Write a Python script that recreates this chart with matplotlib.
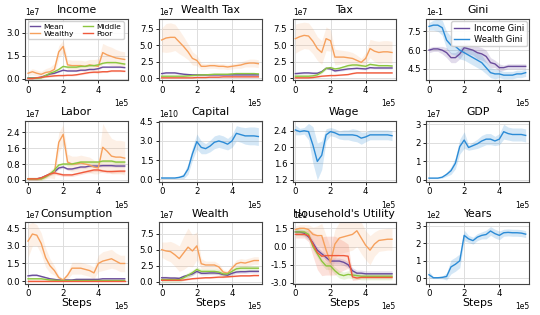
import numpy as np
import matplotlib
matplotlib.use("Agg")
import matplotlib.pyplot as plt
from matplotlib.ticker import FuncFormatter, ScalarFormatter

steps = [0, 25000, 50000, 75000, 100000, 125000, 150000, 175000, 200000, 225000, 250000,
         275000, 300000, 325000, 350000, 375000, 400000, 425000, 450000, 475000, 500000,
         525000, 550000]

groups = ["Mean", "Wealthy", "Middle", "Poor"]

# ---- Income (1e7) ----
income_mean = [0.05,0.05,0.05,0.1,0.2,0.3,0.35,0.45,0.55,0.5,0.5,0.5,0.55,0.55,0.6,0.6,0.65,0.75,0.75,0.75,0.75,0.75,0.72]
income_wealthy = [0.35,0.45,0.35,0.28,0.4,0.45,0.6,1.75,2.1,0.9,0.85,0.85,0.85,0.8,0.9,0.85,0.8,1.7,1.55,1.45,1.35,1.3,1.25]
income_middle = [0.03,0.03,0.03,0.05,0.2,0.35,0.45,0.6,0.8,0.75,0.75,0.75,0.8,0.8,0.85,0.85,0.9,1.0,1.05,1.05,1.05,1.0,0.95]
income_poor = [0.0,0.0,0.05,0.08,0.12,0.15,0.18,0.2,0.2,0.22,0.22,0.25,0.3,0.35,0.4,0.42,0.42,0.45,0.45,0.5,0.5,0.5,0.48]
income_wealthy_sd = [0.15,0.2,0.2,0.2,0.25,0.3,0.4,0.4,0.4,0.35,0.35,0.35,0.35,0.35,0.35,0.4,0.5,0.6,0.6,0.6,0.55,0.5,0.5]

# ---- Wealth Tax (1e7) ----
wtax_mean = [0.7,0.8,0.8,0.8,0.7,0.6,0.55,0.5,0.5,0.5,0.5,0.5,0.5,0.5,0.5,0.5,0.5,0.5,0.5,0.5,0.5,0.5,0.5]
wtax_wealthy = [5.8,6.1,6.2,6.2,5.5,4.8,4.0,3.0,2.7,1.8,1.8,1.9,1.9,1.8,1.8,1.7,1.8,1.9,2.0,2.2,2.3,2.3,2.2]
wtax_middle = [0.3,0.3,0.3,0.3,0.3,0.3,0.35,0.4,0.45,0.5,0.5,0.55,0.6,0.6,0.6,0.6,0.65,0.7,0.7,0.7,0.7,0.7,0.65]
wtax_poor = [0.05,0.05,0.05,0.05,0.05,0.05,0.05,0.05,0.1,0.1,0.1,0.15,0.15,0.15,0.2,0.2,0.2,0.2,0.2,0.2,0.2,0.2,0.2]
wtax_wealthy_sd = [1.8,2.2,2.2,2.0,1.8,1.5,1.2,1.0,0.8,0.5,0.4,0.4,0.4,0.4,0.4,0.4,0.4,0.4,0.5,0.5,0.6,0.6,0.6]

# ---- Tax (1e7) ----
tax_mean = [0.7,0.75,0.8,0.8,0.75,0.75,1.0,1.5,1.4,1.1,1.2,1.3,1.4,1.45,1.5,1.45,1.4,1.6,1.55,1.55,1.55,1.55,1.55]
tax_wealthy = [6.0,6.3,6.5,6.4,5.6,4.5,3.9,6.0,5.7,3.2,3.2,3.2,3.1,3.0,2.7,2.4,3.0,4.5,4.1,3.9,4.0,4.0,3.9]
tax_middle = [0.3,0.3,0.3,0.3,0.35,0.5,0.9,1.5,1.6,1.4,1.5,1.7,1.9,2.0,2.0,1.9,1.8,2.1,2.0,1.9,1.9,1.9,1.85]
tax_poor = [0.05,0.05,0.05,0.05,0.1,0.2,0.3,0.35,0.4,0.4,0.45,0.5,0.55,0.7,0.8,0.8,0.8,0.8,0.8,0.8,0.8,0.8,0.8]
tax_wealthy_sd = [2.2,2.1,2.0,2.0,1.9,1.8,1.8,1.8,1.6,1.2,1.1,1.0,1.0,0.9,0.8,0.6,0.9,1.4,1.6,1.7,1.7,1.7,1.7]

# ---- Gini ----
gini_income = [0.60,0.61,0.61,0.60,0.58,0.54,0.54,0.57,0.62,0.61,0.60,0.58,0.57,0.55,0.50,0.49,0.46,0.46,0.47,0.47,0.47,0.47,0.47]
gini_wealth = [0.79,0.80,0.80,0.78,0.68,0.64,0.63,0.60,0.58,0.56,0.54,0.52,0.50,0.46,0.42,0.41,0.41,0.40,0.40,0.40,0.41,0.41,0.42]
gini_income_sd = [0.02,0.02,0.02,0.03,0.04,0.04,0.04,0.04,0.04,0.04,0.04,0.05,0.05,0.05,0.04,0.03,0.03,0.02,0.02,0.02,0.02,0.02,0.02]
gini_wealth_sd = [0.03,0.04,0.05,0.06,0.07,0.07,0.07,0.07,0.06,0.06,0.06,0.06,0.06,0.05,0.04,0.04,0.03,0.03,0.03,0.03,0.03,0.03,0.03]

# ---- Labor (1e7) ----
labor_mean = [0.05,0.05,0.05,0.1,0.2,0.3,0.4,0.6,0.65,0.55,0.55,0.6,0.65,0.65,0.7,0.7,0.7,0.72,0.72,0.72,0.7,0.7,0.7]
labor_wealthy = [0.05,0.05,0.05,0.05,0.15,0.3,0.35,1.9,2.3,0.9,0.8,0.8,0.85,0.8,0.75,0.65,0.6,1.65,1.45,1.2,1.15,1.15,1.1]
labor_middle = [0.05,0.05,0.05,0.05,0.15,0.3,0.5,0.75,0.8,0.8,0.8,0.85,0.9,0.9,0.9,0.9,0.9,0.95,0.95,0.95,0.9,0.9,0.9]
labor_poor = [0.05,0.05,0.05,0.1,0.2,0.3,0.35,0.3,0.25,0.25,0.25,0.3,0.35,0.4,0.45,0.5,0.5,0.45,0.42,0.42,0.43,0.44,0.44]
labor_wealthy_sd = [0.03,0.03,0.03,0.05,0.1,0.2,0.3,0.5,0.5,0.4,0.4,0.4,0.4,0.4,0.4,0.35,0.3,1.2,1.0,0.9,0.85,0.85,0.85]

# ---- Capital (1e10) ----
capital = [0.1,0.1,0.1,0.1,0.15,0.25,0.8,2.0,2.95,2.5,2.4,2.6,2.9,3.0,2.9,2.75,3.0,3.6,3.5,3.4,3.4,3.4,3.35]
capital_sd = [0.05,0.05,0.05,0.05,0.1,0.2,0.4,0.5,0.6,0.5,0.4,0.45,0.5,0.5,0.5,0.45,0.5,0.6,0.6,0.65,0.7,0.7,0.7]

# ---- Wage ----
wage = [2.42,2.38,2.40,2.38,2.05,1.65,1.8,2.3,2.38,2.35,2.3,2.3,2.3,2.3,2.28,2.22,2.25,2.3,2.3,2.3,2.3,2.3,2.28]
wage_sd = [0.12,0.08,0.08,0.2,0.45,0.45,0.35,0.15,0.1,0.1,0.1,0.12,0.12,0.15,0.15,0.15,0.12,0.12,0.12,0.12,0.12,0.12,0.12]

# ---- GDP (1e7) ----
gdp = [0.1,0.1,0.1,0.15,0.3,0.5,0.9,1.8,2.15,1.75,1.85,1.95,2.1,2.2,2.2,2.1,2.2,2.6,2.5,2.45,2.45,2.45,2.4]
gdp_sd = [0.03,0.03,0.03,0.05,0.1,0.2,0.3,0.4,0.45,0.15,0.2,0.25,0.3,0.3,0.3,0.25,0.3,0.4,0.35,0.35,0.35,0.35,0.35]

# ---- Consumption (1e7) ----
cons_mean = [0.45,0.5,0.5,0.4,0.3,0.2,0.15,0.1,0.1,0.1,0.1,0.15,0.15,0.15,0.15,0.15,0.15,0.2,0.2,0.2,0.2,0.2,0.2]
cons_wealthy = [3.4,4.0,3.9,3.2,2.0,1.3,0.9,0.3,0.1,0.5,1.1,1.1,1.1,1.0,0.9,0.7,1.5,1.7,1.8,1.9,1.7,1.5,1.5]
cons_middle = [0.2,0.2,0.2,0.2,0.15,0.1,0.08,0.05,0.05,0.05,0.05,0.05,0.05,0.05,0.05,0.05,0.05,0.05,0.05,0.05,0.05,0.05,0.05]
cons_poor = [0.05,0.05,0.05,0.05,0.05,0.05,0.05,0.05,0.05,0.05,0.05,0.05,0.05,0.05,0.05,0.05,0.05,0.05,0.05,0.05,0.05,0.05,0.05]
cons_wealthy_sd = [1.4,1.0,0.9,0.9,0.8,0.6,0.4,0.2,0.1,0.3,0.5,0.5,0.5,0.5,0.5,0.5,0.7,0.8,0.8,0.8,0.7,0.7,0.7]

# ---- Wealth (1e7) ----
wealth_mean = [0.6,0.6,0.55,0.55,0.5,0.8,1.0,1.2,1.6,1.3,1.3,1.35,1.35,1.3,1.1,1.0,1.3,1.5,1.55,1.55,1.6,1.6,1.6]
wealth_wealthy = [5.0,4.8,4.7,4.2,3.6,4.5,5.4,4.8,5.6,2.8,2.6,2.6,2.6,2.3,1.5,1.3,2.1,2.8,3.0,2.9,3.1,3.3,3.3]
wealth_middle = [0.3,0.3,0.3,0.3,0.3,0.6,1.0,1.4,1.9,1.6,1.6,1.6,1.6,1.5,1.2,1.2,1.6,2.0,2.1,2.1,2.1,2.1,2.1]
wealth_poor = [0.2,0.2,0.2,0.2,0.2,0.25,0.35,0.45,0.5,0.55,0.6,0.6,0.65,0.7,0.7,0.75,0.8,0.85,0.9,0.9,0.9,0.95,0.95]
wealth_wealthy_sd = [1.2,1.4,1.6,1.8,2.0,2.6,3.0,2.5,2.2,0.8,0.6,0.6,0.6,0.5,0.4,0.4,0.5,0.6,0.6,0.6,0.6,0.6,0.6]

# ---- Household's Utility (1e1) ----
util_mean = [1.2,1.2,1.1,0.8,0.3,-0.3,-0.6,-0.9,-1.2,-1.2,-1.2,-1.3,-1.5,-2.0,-2.2,-2.2,-2.25,-2.25,-2.25,-2.25,-2.25,-2.25,-2.25]
util_wealthy = [1.4,1.5,1.5,1.4,1.0,0.9,0.9,-0.3,-1.3,0.2,0.7,0.8,0.9,1.0,1.3,0.7,0.1,-0.3,0.2,0.5,0.55,0.6,0.6]
util_middle = [1.2,1.2,1.2,1.0,0.0,-0.6,-1.2,-1.6,-1.6,-2.0,-2.3,-2.4,-2.3,-2.35,-2.4,-2.45,-2.45,-2.45,-2.45,-2.45,-2.45,-2.45,-2.45]
util_poor = [1.0,1.0,1.0,0.9,0.2,-0.5,-0.8,-0.75,-0.75,-0.75,-0.75,-0.75,-0.8,-2.5,-2.6,-2.55,-2.55,-2.55,-2.55,-2.55,-2.55,-2.55,-2.55]
util_wealthy_sd = [0.3,0.3,0.3,0.4,0.6,0.8,1.0,1.2,1.2,1.2,1.3,1.3,1.3,1.3,1.3,1.3,1.2,1.2,1.0,0.9,0.9,0.9,0.9]
util_poor_sd = [0.3,0.3,0.3,0.5,1.0,1.4,1.6,1.6,1.6,1.6,1.4,1.2,1.0,0.3,0.15,0.1,0.1,0.1,0.1,0.1,0.1,0.1,0.1]

# ---- Years ----
years = [20,3,3,5,10,65,80,100,245,225,215,235,245,250,270,255,245,260,262,260,260,258,252]
years_sd = [20,5,5,8,20,40,40,40,30,20,20,20,20,25,25,25,25,20,20,20,20,20,20]

COL = {"Mean": "#6a4c9c", "Wealthy": "#f6a05c", "Middle": "#8cc63f", "Poor": "#f05a3c"}
BLUE = "#2b8bd6"

plt.rcParams.update({
    "font.family": "DejaVu Sans",
    "axes.edgecolor": "#444444",
    "axes.linewidth": 0.8,
    "xtick.labelsize": 6.2,
    "ytick.labelsize": 6.2,
    "xtick.major.size": 2.5,
    "ytick.major.size": 2.5,
    "xtick.major.width": 0.6,
    "ytick.major.width": 0.6,
    "xtick.major.pad": 1.5,
    "ytick.major.pad": 1.5,
    "axes.titlesize": 7.8,
    "axes.titlepad": 4,
})

fig, axes = plt.subplots(3, 4, figsize=(5.4, 3.15), dpi=100)
fig.subplots_adjust(left=0.047, right=0.98, top=0.94, bottom=0.1, wspace=0.3, hspace=0.66)

x = np.array(steps, dtype=float)
offset_labels = []


def fill(ax, y, sd, color, alpha=0.2):
    y = np.asarray(y); sd = np.asarray(sd)
    ax.fill_between(x, y - sd, y + sd, color=color, alpha=alpha, lw=0)


def multi(ax, data, sds, scale):
    for g, y in zip(groups, data):
        yy = np.asarray(y) * scale
        sd = sds.get(g)
        if sd is not None:
            fill(ax, yy, np.asarray(sd) * scale, COL[g], 0.15 if g == "Wealthy" else 0.18)
    for g, y in zip(groups, data):
        yy = np.asarray(y) * scale
        ax.plot(x, yy, color=COL[g], lw=1.0, label=g)


def style(ax, title, yticks, ylim, scale, yoom, ydec, xlabel=False):
    ax.set_title(title)
    ax.set_xlim(-0.15e5, 5.7e5)
    ax.set_xticks([0, 2e5, 4e5])
    ax.set_yticks(np.asarray(yticks) * scale)
    ax.set_ylim(ylim[0] * scale, ylim[1] * scale)
    ax.grid(True, color="#dddddd", lw=0.7)
    ax.set_axisbelow(True)
    xf = ScalarFormatter(useMathText=False)
    xf.set_powerlimits((0, 0))
    ax.xaxis.set_major_formatter(xf)
    ax.xaxis.get_offset_text().set_fontsize(5.5)
    div = 10.0 ** yoom
    ax.yaxis.set_major_formatter(FuncFormatter(lambda v, p: f"{v / div:.{ydec}f}"))
    if yoom != 0:
        pos = ax.get_position()
        t = fig.text(pos.x0, pos.y1 + 2.0 / 315, f"1e{yoom}", ha="left", va="bottom",
                     fontsize=5.5, color="black", zorder=10)
        offset_labels.append((title, t))
    if xlabel:
        ax.set_xlabel("Steps", fontsize=7.8, labelpad=0)


small_sd = lambda y, v: [v] * len(y)

# Row 1
ax = axes[0, 0]
multi(ax, [income_mean, income_wealthy, income_middle, income_poor],
      {"Wealthy": income_wealthy_sd, "Middle": small_sd(income_middle, 0.06),
       "Mean": small_sd(income_mean, 0.04), "Poor": small_sd(income_poor, 0.05)}, 1e7)
style(ax, "Income", [0, 1.5, 3.0], (-0.1, 3.9), 1e7, 7, 1)
ax.legend(ncol=2, fontsize=5.4, loc="upper left", handlelength=1.3, columnspacing=1.2,
          handletextpad=0.5, borderpad=0.3, labelspacing=0.15, borderaxespad=0.3,
          frameon=True, framealpha=0.9)

ax = axes[0, 1]
multi(ax, [wtax_mean, wtax_wealthy, wtax_middle, wtax_poor],
      {"Wealthy": wtax_wealthy_sd, "Mean": small_sd(wtax_mean, 0.15),
       "Middle": small_sd(wtax_middle, 0.1), "Poor": small_sd(wtax_poor, 0.03)}, 1e7)
style(ax, "Wealth Tax", [0, 2.5, 5.0, 7.5], (-0.3, 9.0), 1e7, 7, 1)

ax = axes[0, 2]
multi(ax, [tax_mean, tax_wealthy, tax_middle, tax_poor],
      {"Wealthy": tax_wealthy_sd, "Mean": small_sd(tax_mean, 0.15),
       "Middle": small_sd(tax_middle, 0.2), "Poor": small_sd(tax_poor, 0.08)}, 1e7)
style(ax, "Tax", [0, 2.5, 5.0, 7.5], (-0.3, 9.0), 1e7, 7, 1)

ax = axes[0, 3]
fill(ax, np.asarray(gini_income), gini_income_sd, COL["Mean"])
fill(ax, np.asarray(gini_wealth), gini_wealth_sd, BLUE)
ax.plot(x, gini_income, color=COL["Mean"], lw=1.0, label="Income Gini")
ax.plot(x, gini_wealth, color=BLUE, lw=1.0, label="Wealth Gini")
style(ax, "Gini", [0.45, 0.60, 0.75], (0.36, 0.85), 1.0, -1, 1)
ax.legend(fontsize=6.0, loc="upper right", handlelength=1.8, borderpad=0.3,
          labelspacing=0.25, handletextpad=0.6, borderaxespad=0.3, framealpha=0.9)

# Row 2
ax = axes[1, 0]
multi(ax, [labor_mean, labor_wealthy, labor_middle, labor_poor],
      {"Wealthy": labor_wealthy_sd, "Mean": small_sd(labor_mean, 0.06),
       "Middle": small_sd(labor_middle, 0.08), "Poor": small_sd(labor_poor, 0.08)}, 1e7)
style(ax, "Labor", [0, 0.8, 1.6, 2.4], (-0.1, 3.0), 1e7, 7, 1)

ax = axes[1, 1]
fill(ax, np.asarray(capital) * 1e10, np.asarray(capital_sd) * 1e10, BLUE)
ax.plot(x, np.asarray(capital) * 1e10, color=BLUE, lw=1.0)
style(ax, "Capital", [0, 1.5, 3.0, 4.5], (-0.2, 4.6), 1e10, 10, 1)

ax = axes[1, 2]
fill(ax, np.asarray(wage), wage_sd, BLUE)
ax.plot(x, wage, color=BLUE, lw=1.0)
style(ax, "Wage", [1.2, 1.6, 2.0, 2.4], (1.15, 2.65), 1.0, 0, 1)

ax = axes[1, 3]
fill(ax, np.asarray(gdp) * 1e7, np.asarray(gdp_sd) * 1e7, BLUE)
ax.plot(x, np.asarray(gdp) * 1e7, color=BLUE, lw=1.0)
style(ax, "GDP", [0, 1, 2, 3], (-0.1, 3.2), 1e7, 7, 0)

# Row 3
ax = axes[2, 0]
multi(ax, [cons_mean, cons_wealthy, cons_middle, cons_poor],
      {"Wealthy": cons_wealthy_sd, "Mean": small_sd(cons_mean, 0.08),
       "Middle": small_sd(cons_middle, 0.05), "Poor": small_sd(cons_poor, 0.02)}, 1e7)
style(ax, "Consumption", [0, 1.5, 3.0, 4.5], (-0.2, 5.0), 1e7, 7, 1, xlabel=True)

ax = axes[2, 1]
multi(ax, [wealth_mean, wealth_wealthy, wealth_middle, wealth_poor],
      {"Wealthy": wealth_wealthy_sd, "Mean": small_sd(wealth_mean, 0.25),
       "Middle": small_sd(wealth_middle, 0.4), "Poor": small_sd(wealth_poor, 0.1)}, 1e7)
style(ax, "Wealth", [0, 2.5, 5.0, 7.5], (-0.3, 9.3), 1e7, 7, 1, xlabel=True)

ax = axes[2, 2]
multi(ax, [util_mean, util_wealthy, util_middle, util_poor],
      {"Wealthy": util_wealthy_sd, "Mean": small_sd(util_mean, 0.25),
       "Middle": small_sd(util_middle, 0.3), "Poor": util_poor_sd}, 10.0)
style(ax, "Household's Utility", [-3.0, -1.5, 0, 1.5], (-3.05, 2.0), 10.0, 1, 1, xlabel=True)

ax = axes[2, 3]
fill(ax, np.asarray(years), years_sd, BLUE)
ax.plot(x, years, color=BLUE, lw=1.0)
style(ax, "Years", [0, 100, 200, 300], (-30, 320), 1.0, 2, 0, xlabel=True)

fig.savefig("out.png", dpi=100)

# Self-check: every scale label must leave dark pixels in the saved image.
fig.canvas.draw()
buf = np.asarray(fig.canvas.buffer_rgba())[:, :, :3].astype(int)
H = buf.shape[0]
r = fig.canvas.get_renderer()
missing = []
for name, t in offset_labels:
    x0, y0, w, h = t.get_window_extent(r).bounds
    r0, r1 = int(H - (y0 + h)), int(H - y0) + 1
    c0, c1 = int(x0), int(x0 + w) + 1
    patch = buf[max(r0, 0):r1, max(c0, 0):c1]
    dark = int((patch.sum(axis=2) < 300).sum())
    if dark == 0:
        missing.append(f"{name}: bbox={(round(x0), round(y0), round(w), round(h))} visible={t.get_visible()}")
if missing:
    raise SystemExit("scale label without ink: " + "; ".join(missing))
